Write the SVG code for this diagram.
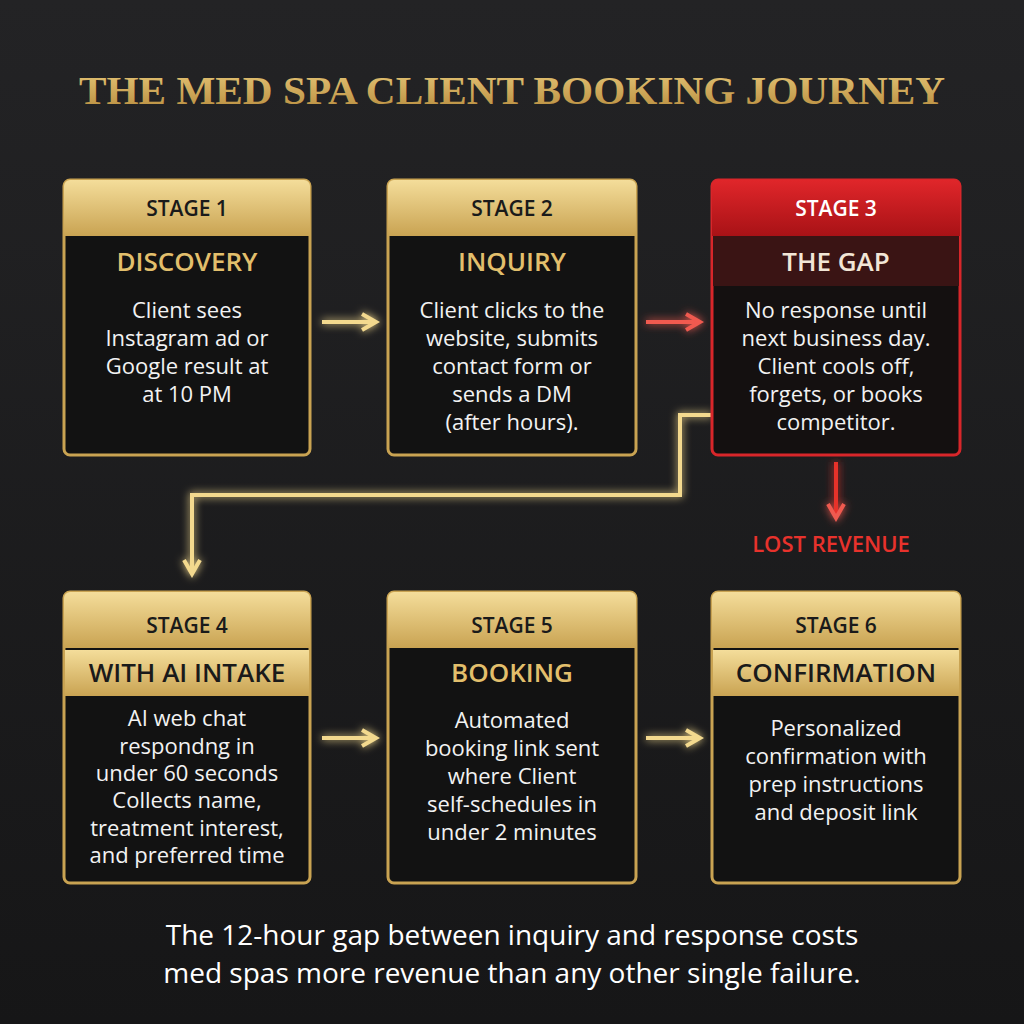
<svg xmlns="http://www.w3.org/2000/svg" width="1024" height="1024" viewBox="0 0 1024 1024">
<defs>
<linearGradient id="bg" x1="0" y1="0" x2="0" y2="1"><stop offset="0" stop-color="#232325"/><stop offset="1" stop-color="#161617"/></linearGradient>
<linearGradient id="gold" x1="0" y1="0" x2="0" y2="1"><stop offset="0" stop-color="#f4dd9a"/><stop offset="1" stop-color="#c9a352"/></linearGradient>
<linearGradient id="red" x1="0" y1="0" x2="0" y2="1"><stop offset="0" stop-color="#e0262a"/><stop offset="1" stop-color="#a81216"/></linearGradient>
<linearGradient id="tgold" x1="0" y1="0" x2="0" y2="1"><stop offset="0" stop-color="#e8c97a"/><stop offset="1" stop-color="#b68a3c"/></linearGradient>
<filter id="glow" x="-20%" y="-20%" width="140%" height="140%"><feGaussianBlur stdDeviation="4" result="b"/><feMerge><feMergeNode in="b"/><feMergeNode in="SourceGraphic"/></feMerge></filter>
<marker id="ag" viewBox="0 0 10 10" refX="8" refY="5" markerWidth="5" markerHeight="5" orient="auto"><path d="M1,1 L8,5 L1,9" fill="none" stroke="#f3d98e" stroke-width="2"/></marker>
<marker id="ar" viewBox="0 0 10 10" refX="8" refY="5" markerWidth="5" markerHeight="5" orient="auto"><path d="M1,1 L8,5 L1,9" fill="none" stroke="#f05a50" stroke-width="2"/></marker>
</defs>
<style>
.box{fill:#121212;stroke:#c9a352;stroke-width:3}
.hd{font-family:"Open Sans","Liberation Sans",sans-serif;font-weight:600;font-size:21px;fill:#1a1a1a;text-anchor:middle}
.tt{font-family:"Open Sans","Liberation Sans",sans-serif;font-weight:600;font-size:26px;fill:#e2bf6c;text-anchor:middle}
.ttd{font-family:"Open Sans","Liberation Sans",sans-serif;font-weight:600;font-size:26px;fill:#1a1a1a;text-anchor:middle}
.bd{font-family:"Open Sans","Liberation Sans",sans-serif;font-size:22px;fill:#f2f2f2;text-anchor:middle}
.cg{fill:none;stroke:#f3d98e;stroke-width:4}
</style>
<rect width="1024" height="1024" fill="url(#bg)"/>
<text x="512" y="104" font-family="Liberation Serif,serif" font-weight="bold" font-size="41" fill="url(#tgold)" text-anchor="middle" textLength="866" lengthAdjust="spacingAndGlyphs">THE MED SPA CLIENT BOOKING JOURNEY</text>

<g id="connectors" filter="url(#glow)">
<path class="cg" d="M322,322 H376" marker-end="url(#ag)"/>
<path d="M646,322 H700" fill="none" stroke="#f05a50" stroke-width="4" marker-end="url(#ar)"/>
<path class="cg" d="M712,415 H680 V495 H192 V574" marker-end="url(#ag)"/>
<path d="M836,462 V518" fill="none" stroke="#e8322c" stroke-width="4" marker-end="url(#ar)"/>
<path class="cg" d="M322,738 H376" marker-end="url(#ag)"/>
<path class="cg" d="M646,738 H700" marker-end="url(#ag)"/>
</g>
<text x="831" y="552" font-family="Open Sans,Liberation Sans,sans-serif" font-weight="600" font-size="22" fill="#e8322c" text-anchor="middle">LOST REVENUE</text>

<g id="stage1">
<rect class="box" x="64" y="180" width="246" height="275" rx="6"/>
<path d="M64,186 a6,6 0 0 1 6,-6 h234 a6,6 0 0 1 6,6 v50 h-246z" fill="url(#gold)"/>
<text class="hd" x="187" y="216">STAGE 1</text>
<text class="tt" x="187" y="271">DISCOVERY</text>
<text class="bd"><tspan x="187" y="318">Client sees</tspan><tspan x="187" y="346">Instagram ad or</tspan><tspan x="187" y="374">Google result at</tspan><tspan x="187" y="402">at 10 PM</tspan></text>
</g>
<g id="stage2">
<rect class="box" x="388" y="180" width="248" height="275" rx="6"/>
<path d="M388,186 a6,6 0 0 1 6,-6 h236 a6,6 0 0 1 6,6 v50 h-248z" fill="url(#gold)"/>
<text class="hd" x="512" y="216">STAGE 2</text>
<text class="tt" x="512" y="271">INQUIRY</text>
<text class="bd"><tspan x="512" y="318">Client clicks to the</tspan><tspan x="512" y="346">website, submits</tspan><tspan x="512" y="374">contact form or</tspan><tspan x="512" y="402">sends a DM</tspan><tspan x="512" y="430">(after hours).</tspan></text>
</g>
<g id="stage3">
<rect x="712" y="180" width="248" height="275" rx="6" fill="#141010" stroke="#d8262a" stroke-width="3"/>
<path d="M712,186 a6,6 0 0 1 6,-6 h236 a6,6 0 0 1 6,6 v50 h-248z" fill="url(#red)"/>
<rect x="713" y="236" width="246" height="50" fill="#3a1414"/>
<text x="836" y="216" font-family="Open Sans,Liberation Sans,sans-serif" font-weight="600" font-size="21" fill="#fff" text-anchor="middle">STAGE 3</text>
<text x="836" y="271" font-family="Open Sans,Liberation Sans,sans-serif" font-weight="600" font-size="26" fill="#f2e6d6" text-anchor="middle">THE GAP</text>
<text class="bd"><tspan x="836" y="318">No response until</tspan><tspan x="836" y="346">next business day.</tspan><tspan x="836" y="374">Client cools off,</tspan><tspan x="836" y="402">forgets, or books</tspan><tspan x="836" y="430">competitor.</tspan></text>
</g>
<g id="stage4">
<rect class="box" x="64" y="592" width="246" height="291" rx="6"/>
<path d="M64,598 a6,6 0 0 1 6,-6 h234 a6,6 0 0 1 6,6 v50 h-246z" fill="url(#gold)"/>
<rect x="65" y="650" width="244" height="46" fill="url(#gold)"/>
<text class="hd" x="187" y="633">STAGE 4</text>
<text class="ttd" x="187" y="682">WITH AI INTAKE</text>
<text class="bd"><tspan x="187" y="726">AI web chat</tspan><tspan x="187" y="754">respondng in</tspan><tspan x="187" y="781">under 60 seconds</tspan><tspan x="187" y="808">Collects name,</tspan><tspan x="187" y="836">treatment interest,</tspan><tspan x="187" y="863">and preferred time</tspan></text>
</g>
<g id="stage5">
<rect class="box" x="388" y="592" width="248" height="291" rx="6"/>
<path d="M388,598 a6,6 0 0 1 6,-6 h236 a6,6 0 0 1 6,6 v50 h-248z" fill="url(#gold)"/>
<text class="hd" x="512" y="633">STAGE 5</text>
<text class="tt" x="512" y="682">BOOKING</text>
<text class="bd"><tspan x="512" y="728">Automated</tspan><tspan x="512" y="756">booking link sent</tspan><tspan x="512" y="784">where Client</tspan><tspan x="512" y="812">self-schedules in</tspan><tspan x="512" y="840">under 2 minutes</tspan></text>
</g>
<g id="stage6">
<rect class="box" x="712" y="592" width="248" height="291" rx="6"/>
<path d="M712,598 a6,6 0 0 1 6,-6 h236 a6,6 0 0 1 6,6 v50 h-248z" fill="url(#gold)"/>
<rect x="713" y="650" width="246" height="46" fill="url(#gold)"/>
<text class="hd" x="836" y="633">STAGE 6</text>
<text class="ttd" x="836" y="682">CONFIRMATION</text>
<text class="bd"><tspan x="836" y="736">Personalized</tspan><tspan x="836" y="764">confirmation with</tspan><tspan x="836" y="792">prep instructions</tspan><tspan x="836" y="820">and deposit link</tspan></text>
</g>
<text font-family="Open Sans,Liberation Sans,sans-serif" font-size="28" fill="#fff" text-anchor="middle"><tspan x="512" y="945">The 12-hour gap between inquiry and response costs</tspan><tspan x="512" y="983">med spas more revenue than any other single failure.</tspan></text>
</svg>
